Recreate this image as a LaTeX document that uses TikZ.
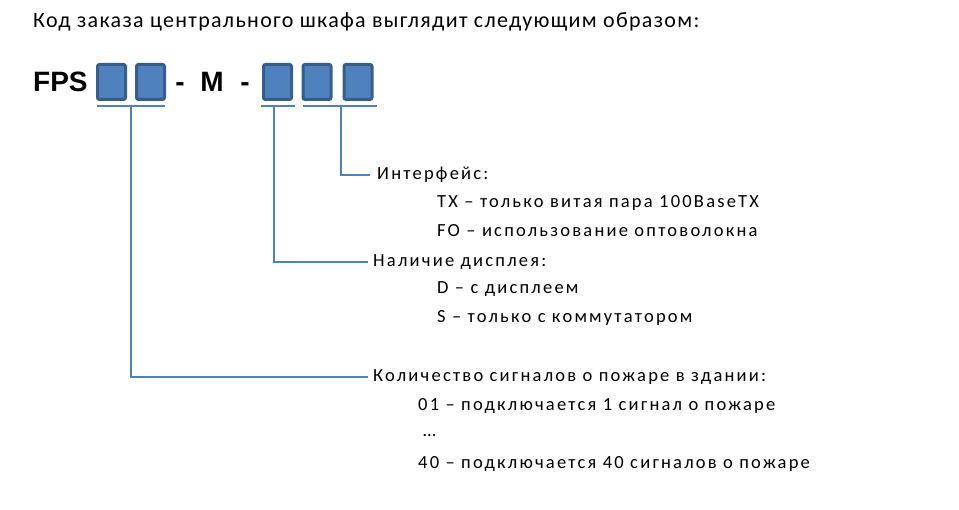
\documentclass[tikz,border=0pt]{standalone}
\usepackage{fontspec}
\setmainfont{Carlito}[LetterSpace=12]
\newfontfamily\titlefont{Carlito}[LetterSpace=6]
\newfontfamily\arialfont{Liberation Sans}
\usetikzlibrary{positioning}
\definecolor{cellblue}{HTML}{4F81BD}
\definecolor{celledge}{HTML}{385D8A}
\begin{document}
\begin{tikzpicture}[x=1pt, y=-1pt,
    cell/.style={draw=celledge, line width=3pt, fill=cellblue, rounded corners=2pt, minimum width=28pt, minimum height=35pt, inner sep=0pt},
    code/.style={font=\arialfont\bfseries\fontsize{28}{32}\selectfont, inner sep=0pt, anchor=base},
    txt/.style={font=\fontsize{18.5}{22}\selectfont, anchor=west, inner sep=0pt},
    lead/.style={draw=cellblue, line width=2pt},
]
\useasboundingbox (0,0) rectangle (959,510);
% title
\node[txt, font=\titlefont\fontsize{22}{26}\selectfont] (title) at (33,22) {Код заказа центрального шкафа выглядит следующим образом:};

% code row
\node[code, anchor=base west] (fps) at (33,92) {FPS};
\node[cell] (c1) at (111.5,82) {};
\node[cell] (c2) at (150.5,82) {};
\node[code] (dash1) at (180,92) {-};
\node[code] (m) at (212,92) {M};
\node[code] (dash2) at (245,92) {-};
\node[cell] (c3) at (277.5,82) {};
\node[cell] (c4) at (317,82) {};
\node[cell] (c5) at (358,82) {};

% underlines
\draw[lead] (97,106) coordinate (u1a) -- (165,106) coordinate (u1b);
\draw[lead] (261,106) coordinate (u2a) -- (295,106) coordinate (u2b);
\draw[lead] (303,106) coordinate (u3a) -- (377,106) coordinate (u3b);
\coordinate (t1) at (131,106);
\coordinate (t2) at (274,106);
\coordinate (t3) at (341,106);

% interface
\node[txt] (iface) at (377,175) {Интерфейс:};
\node[txt] (tx) at (437,203) {TX – только витая пара 100BaseTX};
\node[txt] (fo) at (437,231) {FO – использование оптоволокна};
\draw[lead] (t3) |- ([xshift=-7pt]iface.west);

% display
\node[txt] (disp) at (373,262) {Наличие дисплея:};
\node[txt] (dd) at (437,289) {D – с дисплеем};
\node[txt] (ds) at (437,318) {S – только с коммутатором};
\draw[lead] (t2) |- ([xshift=-5pt]disp.west);

% signals
\node[txt] (sig) at (373,377) {Количество сигналов о пожаре в здании:};
\node[txt] (s01) at (418,406) {01 – подключается 1 сигнал о пожаре};
\node[txt] (sdots) at (423,436) {…};
\node[txt] (s40) at (418,464) {40 – подключается 40 сигналов о пожаре};
\draw[lead] (t1) |- ([xshift=-5pt]sig.west);
\end{tikzpicture}
\end{document}
